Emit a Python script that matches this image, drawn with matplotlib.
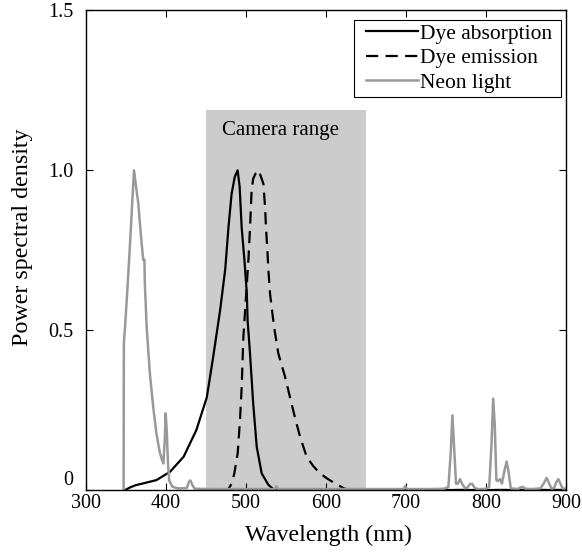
import matplotlib
matplotlib.use("Agg")
import matplotlib.pyplot as plt
import matplotlib.patches as patches

plt.rcParams['font.family'] = ['Liberation Serif', 'DejaVu Serif']
plt.rcParams['font.size'] = 14
plt.rcParams['mathtext.fontset'] = 'stix'

# dye absorption spectrum
abs_nm = [349, 355, 362, 372, 388, 405, 422, 438, 451, 459, 467.5, 474, 478, 482, 486, 489.5,
          492, 494.6, 498, 501, 502, 505, 509, 513.4, 519.6, 528, 534, 560, 900]
abs_val = [0.0, 0.008, 0.015, 0.021, 0.031, 0.057, 0.104, 0.188, 0.29, 0.417, 0.56, 0.69, 0.82,
           0.927, 0.98, 1.0, 0.95, 0.82, 0.72, 0.615, 0.53, 0.427, 0.27, 0.135, 0.052, 0.016,
           0.003, 0.0, 0.0]

# dye emission spectrum
em_nm = [470, 478, 482, 485.4, 489.6, 492.5, 494.6, 496.7, 500.8, 503, 505, 507, 509, 512, 515.4,
         518, 521.7, 523.8, 525, 526.7, 528, 530, 533, 535.4, 540.4, 548.8, 555, 561, 567.5,
         575.8, 584, 592.5, 602, 611, 622.5, 630, 900]
em_val = [0.0, 0.003, 0.02, 0.052, 0.115, 0.22, 0.323, 0.479, 0.635, 0.72, 0.82, 0.9375, 0.974,
          0.99, 1.0, 0.985, 0.958, 0.885, 0.82, 0.75, 0.6875, 0.615, 0.552, 0.505, 0.427, 0.354,
          0.29, 0.229, 0.167, 0.104, 0.075, 0.052, 0.035, 0.021, 0.005, 0.0, 0.0]

# neon lamp spectrum
neon_nm = [347, 347.3, 348.8, 352, 355, 358, 360, 362.5, 365.4, 367.5, 369.6, 371.5, 373, 373.5,
           375.8, 378, 380, 384, 388, 392, 395, 396.7, 398.3, 399.6, 401, 402.5, 404, 408, 415,
           426, 428.5, 430.5, 433, 436, 460, 500, 536, 538, 540, 580, 640, 697, 699, 701, 730,
           748, 753, 756, 758, 760, 762.5, 765, 767.5, 770, 774, 777, 780, 783, 786, 790, 795,
           800, 804, 807, 809, 811, 813, 815, 817.5, 820, 823, 825.8, 828, 831, 836, 840, 843,
           846, 849, 855, 862, 868, 872, 875.8, 879, 882, 885, 888, 890.4, 893, 896, 900]
neon_val = [0.0, 0.46, 0.51, 0.64, 0.77, 0.91, 1.0, 0.95, 0.896, 0.83, 0.77, 0.72, 0.72, 0.65,
            0.51, 0.43, 0.36, 0.26, 0.177, 0.12, 0.094, 0.083, 0.15, 0.24, 0.18, 0.08, 0.03, 0.01,
            0.005, 0.006, 0.025, 0.03, 0.015, 0.004, 0.003, 0.003, 0.003, 0.012, 0.003, 0.003,
            0.003, 0.003, 0.012, 0.003, 0.003, 0.004, 0.01, 0.12, 0.234, 0.14, 0.02, 0.02, 0.034,
            0.02, 0.005, 0.008, 0.019, 0.019, 0.006, 0.003, 0.003, 0.004, 0.01, 0.15, 0.286,
            0.2, 0.03, 0.028, 0.034, 0.02, 0.06, 0.089, 0.06, 0.005, 0.004, 0.003, 0.008, 0.01,
            0.004, 0.003, 0.004, 0.005, 0.02, 0.038, 0.02, 0.004, 0.006, 0.025, 0.034, 0.02,
            0.004, 0.005]

camera_lo, camera_hi, camera_top = 450, 650, 1.19

fig = plt.figure(figsize=(5.82, 5.55), dpi=100)
ax = fig.add_axes([0.1478, 0.1171, 0.8247, 0.8640])

ax.add_patch(patches.Rectangle((camera_lo, 0), camera_hi - camera_lo, camera_top,
                               facecolor='#cccccc', edgecolor='none', zorder=0))
ax.text(543, 1.125, 'Camera range', ha='center', va='center', fontsize=15)

ax.plot(abs_nm, abs_val, color='black', lw=1.6, label='Dye absorption')
ax.plot(em_nm, em_val, color='black', lw=1.6, linestyle=(0, (5.5, 3.3)), label='Dye emission')
ax.plot(neon_nm, neon_val, color='#999999', lw=1.8, label='Neon light')

ax.set_xlim(300, 900)
ax.set_ylim(0, 1.5)
ax.set_xticks([300, 400, 500, 600, 700, 800, 900])
ax.set_yticks([0, 0.5, 1.0, 1.5])
ax.set_yticklabels(['0', '0.5', '1.0', '1.5'])
ax.tick_params(direction='in', top=True, right=True, length=5, width=0.8, labelsize=14.5)
ax.tick_params(axis='x', pad=3)
ax.tick_params(axis='y', pad=9)
ax.get_yticklabels()[0].set_va('bottom')
for s in ax.spines.values():
    s.set_linewidth(1.0)

ax.set_xlabel('Wavelength (nm)', fontsize=17.3)
ax.set_ylabel('Power spectral density', fontsize=17.3)
ax.xaxis.set_label_coords(0.505, -0.072, transform=ax.transAxes)
ax.yaxis.set_label_coords(-0.11, 0.528)

# legend without frame, then a box with matlab-like padding drawn around it
leg = ax.legend(loc='upper right', bbox_to_anchor=(0.971, 0.972), fontsize=15.5, frameon=False,
                borderpad=0, labelspacing=0.2, handlelength=2.4, handletextpad=0.1,
                borderaxespad=0)
leg.set_zorder(6)
fig.canvas.draw()
bb = leg.get_window_extent()
inv = ax.transAxes.inverted()
x0, y0 = inv.transform((bb.x0 - 12, bb.y0 - 4))
x1, y1 = inv.transform((bb.x1 + 9, bb.y1 + 4))
ax.add_patch(patches.Rectangle((x0, y0), x1 - x0, y1 - y0, transform=ax.transAxes,
                               facecolor='white', edgecolor='black', lw=0.8, zorder=5,
                               clip_on=False))

plt.savefig("out.png", dpi=100)
